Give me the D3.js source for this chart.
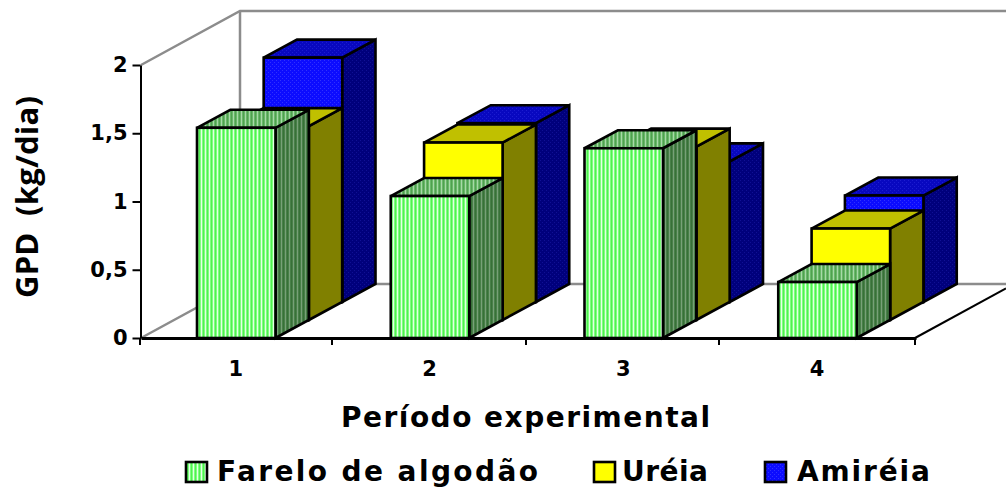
<!DOCTYPE html>
<html>
<head>
<meta charset="utf-8">
<script src="https://cdnjs.cloudflare.com/ajax/libs/d3/7.8.5/d3.min.js"></script>
<style>
html, body { margin: 0; padding: 0; background: #fff; }
svg { display: block; }
text { font-family: "DejaVu Sans", sans-serif; font-weight: 700; fill: #000; }
</style>
</head>
<body>
<div id="demo"></div>
<script>
var periods = ['1', '2', '3', '4'];
var seriesNames = ['Farelo de algodão', 'Uréia', 'Amiréia'];
var farelo = [1.54, 1.04, 1.39, 0.41];
var ureia = [1.42, 1.3, 1.27, 0.67];
var amireia = [1.79, 1.31, 1.03, 0.78];
var yTicks = [0, 0.5, 1, 1.5, 2];
var yTickLabels = ['0', '0,5', '1', '1,5', '2'];

var seriesValues = [farelo, ureia, amireia];
var fills = [
	{ front: 'url(#greenFront)', top: 'url(#greenTop)', side: 'url(#greenSide)' },
	{ front: '#ffff00', top: '#c0c000', side: '#808000' },
	{ front: 'url(#blueFront)', top: 'url(#blueTop)', side: 'url(#blueSide)' }
];

var svg = d3.select('#demo').append('svg')
	.attr('width', 1006)
	.attr('height', 488);

// patterns for the hatched faces
var defs = svg.append('defs');

function stripes(id, base, light, dark) {
	var p = defs.append('pattern').attr('id', id)
		.attr('patternUnits', 'userSpaceOnUse')
		.attr('width', 4).attr('height', 4);
	p.append('rect').attr('width', 4).attr('height', 4).attr('fill', base);
	p.append('rect').attr('x', 1).attr('width', 1).attr('height', 4).attr('fill', light);
	p.append('rect').attr('x', 3).attr('width', 1).attr('height', 4).attr('fill', dark);
}

function dots(id, base, dot) {
	var p = defs.append('pattern').attr('id', id)
		.attr('patternUnits', 'userSpaceOnUse')
		.attr('width', 4).attr('height', 4);
	p.append('rect').attr('width', 4).attr('height', 4).attr('fill', base);
	p.append('rect').attr('width', 1).attr('height', 1).attr('fill', dot);
	p.append('rect').attr('x', 2).attr('y', 2).attr('width', 1).attr('height', 1).attr('fill', dot);
}

stripes('greenFront', '#80ff80', '#e4ffe4', '#50f050');
stripes('greenTop', '#68b868', '#a8d8a8', '#50a050');
stripes('greenSide', '#488048', '#78a078', '#387038');
dots('blueFront', '#0c0cff', '#3030ff');
dots('blueTop', '#0808c0', '#1c1cd0');
dots('blueSide', '#00007c', '#101094');

// scales
var x = d3.scaleBand().domain(periods).range([141, 916]);
var y = d3.scaleLinear().domain([0, 2]).range([338, 65]);
var depthX = d3.scaleLinear().domain([0, 3]).range([0, 100]);
var depthY = d3.scaleLinear().domain([0, 3]).range([0, -54]);
var barOffset = 56;
var barWidth = 78.5;

// walls and floor
var wallTop = y(2) + depthY(3);
var wallBottom = y(0) + depthY(3);
var wallX = 240;
var walls = svg.append('g').attr('fill', 'none').attr('stroke', '#8c8c8c').attr('stroke-width', 2.5);
walls.append('path').attr('d', d3.line()([[141, y(2)], [wallX, wallTop], [1006, wallTop]]));
walls.append('path').attr('d', d3.line()([[wallX, wallTop], [wallX, wallBottom], [141, y(0)]]));
walls.append('path').attr('d', d3.line()([[wallX, wallBottom], [1006, wallBottom]]));

svg.append('path')
	.attr('d', d3.line()([[915, y(0)], [1006, y(0) + depthY(3) * 0.92]]))
	.attr('stroke', '#000').attr('stroke-width', 2).attr('fill', 'none');

// bars, back row first
var row = d3.range(seriesValues.length).reverse();
row.forEach(function(s) {
	var g = svg.append('g').attr('stroke', '#000').attr('stroke-width', 2.6).attr('stroke-linejoin', 'miter');
	var line = d3.line();
	periods.forEach(function(p, i) {
		var v = seriesValues[s][i];
		var x0 = x(p) + barOffset + depthX(s);
		var x1 = x0 + barWidth;
		var yb = y(0) + depthY(s);
		var yt = y(v) + depthY(s);
		var dx = depthX(1);
		var dy = depthY(1);
		g.append('path').attr('fill', fills[s].side)
			.attr('d', line([[x1, yb], [x1 + dx, yb + dy], [x1 + dx, yt + dy], [x1, yt]]) + 'Z');
		g.append('path').attr('fill', fills[s].top)
			.attr('d', line([[x0, yt], [x0 + dx, yt + dy], [x1 + dx, yt + dy], [x1, yt]]) + 'Z');
		g.append('rect').attr('fill', fills[s].front)
			.attr('x', x0).attr('y', yt).attr('width', barWidth).attr('height', yb - yt);
	});
});

// axes
var xAxis = d3.axisBottom(x).tickValues([]).tickSize(0).tickSizeOuter(0);
var gx = svg.append('g').attr('transform', 'translate(0,' + y(0) + ')').call(xAxis);
gx.select('.domain').attr('stroke', '#000').attr('stroke-width', 3);
d3.range(periods.length + 1).forEach(function(i) {
	var tx = Math.round(x.range()[0] + i * x.bandwidth()) - (i > 0 && i < 4 ? 3 : 1);
	gx.append('line').attr('x1', tx).attr('x2', tx).attr('y1', 0).attr('y2', 7)
		.attr('stroke', '#000').attr('stroke-width', 2);
});

var yAxis = d3.axisLeft(y).tickValues(yTicks).tickSize(8).tickSizeOuter(0)
	.tickFormat(function(d, i) { return yTickLabels[i]; });
var gy = svg.append('g').attr('transform', 'translate(140.5,0)').call(yAxis);
gy.select('.domain').attr('stroke', '#000').attr('stroke-width', 2);
gy.selectAll('.tick line').attr('stroke', '#000').attr('stroke-width', 2);
gy.selectAll('.tick text').attr('x', -13).attr('font-size', 21)
	.style('font-family', '"DejaVu Sans", sans-serif').style('font-weight', 700);

svg.selectAll('.xlab').data(periods).enter().append('text')
	.attr('class', 'xlab')
	.attr('x', function(d) { return x(d) + x.bandwidth() / 2 - 2; })
	.attr('y', 376)
	.attr('text-anchor', 'middle')
	.attr('font-size', 21)
	.text(function(d) { return d; });

// titles
svg.append('text').attr('x', 341).attr('y', 427)
	.attr('font-size', 28).attr('textLength', 369).attr('lengthAdjust', 'spacing')
	.text('Período experimental');
svg.append('text').attr('transform', 'translate(38,298) rotate(-90)')
	.style('font-family', '"Open Sans", sans-serif')
	.attr('font-size', 31).attr('textLength', 202).attr('lengthAdjust', 'spacing')
	.attr('xml:space', 'preserve')
	.text('GPD  (kg/dia)');

// legend
var legendBox = [186, 594, 765];
var legendText = [217, 622, 797];
var legendLen = [321, 86, 133];
seriesNames.forEach(function(name, s) {
	svg.append('rect').attr('x', legendBox[s]).attr('y', 462)
		.attr('width', 21).attr('height', 20)
		.attr('fill', fills[s].front).attr('stroke', '#000').attr('stroke-width', 2.6);
	svg.append('text').attr('x', legendText[s]).attr('y', 481)
		.attr('font-size', 28).attr('textLength', legendLen[s]).attr('lengthAdjust', 'spacing')
		.text(name);
});
</script>
</body>
</html>
